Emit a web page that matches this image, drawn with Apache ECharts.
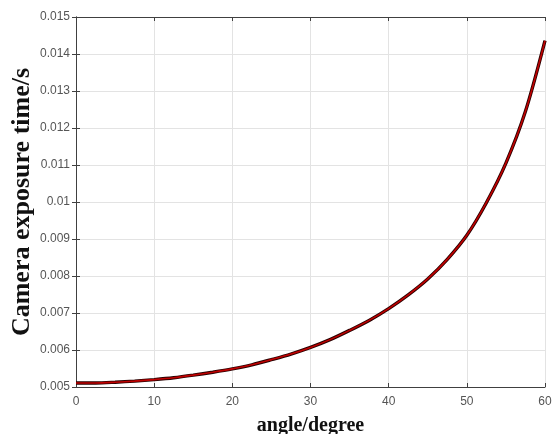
<!DOCTYPE html>
<html>
<head>
<meta charset="utf-8">
<script src="https://cdn.jsdelivr.net/npm/echarts@6/dist/echarts.min.js"></script>
<style>
  html, body { margin: 0; padding: 0; background: #fff; }
  #chart { width: 553px; height: 434px; }
</style>
</head>
<body>
<div id="chart"></div>
<script>
// angle in degrees and exposure time in seconds
const angles = [0, 2.5, 5, 7.5, 10, 12.5, 15, 17.5, 20, 22.5, 25, 27.5, 30,
  32.5, 35, 37.5, 40, 42.5, 45, 47.5, 50, 52.5, 55, 57.5, 60];
const exposure = [0.00511, 0.00511, 0.00513, 0.00516, 0.00520, 0.00525, 0.00532,
  0.00540, 0.00549, 0.00560, 0.00574, 0.00589, 0.00607, 0.00628, 0.00653,
  0.00680, 0.00712, 0.00749, 0.00792, 0.00845, 0.00910, 0.00998, 0.01105,
  0.01245, 0.01436];

const points = angles.map((a, i) => [a, exposure[i]]);

const chart = echarts.init(document.getElementById("chart"));

const axisColor = "#404040";
const labelColor = "#555";
const gridColor = "#e3e3e3";

chart.setOption({
  backgroundColor: "#fff",
  animation: false,
  grid: { left: 76, top: 17, right: 8, bottom: 47, containLabel: false, outerBoundsMode: "none" },
  xAxis: [
    {
      type: "value",
      min: 0,
      max: 60,
      interval: 10,
      name: "angle/degree",
      nameLocation: "middle",
      nameGap: 29,
      nameMoveOverlap: false,
      nameTextStyle: {
        fontFamily: "Liberation Serif",
        fontWeight: "bold",
        fontSize: 20,
        color: "#111",
      },
      axisLine: { lineStyle: { color: axisColor, width: 1 } },
      axisTick: { inside: true, length: 4, lineStyle: { color: axisColor } },
      axisLabel: { color: labelColor, fontFamily: "Liberation Sans", fontSize: 12, margin: 9 },
      splitLine: { show: true, lineStyle: { color: gridColor } },
    },
    {
      type: "value",
      position: "top",
      min: 0,
      max: 60,
      interval: 10,
      axisLine: { show: true, lineStyle: { color: axisColor, width: 1 } },
      axisTick: { show: true, inside: true, length: 4, lineStyle: { color: axisColor } },
      axisLabel: { show: false },
      splitLine: { show: false },
    },
  ],
  yAxis: [
    {
      type: "value",
      min: 0.005,
      max: 0.015,
      interval: 0.001,
      name: "Camera exposure time/s",
      nameLocation: "middle",
      nameGap: 41,
      nameMoveOverlap: false,
      nameTextStyle: {
        fontFamily: "Liberation Serif",
        fontWeight: "bold",
        fontSize: 26,
        color: "#111",
      },
      axisLine: { show: true, lineStyle: { color: axisColor, width: 1 } },
      axisTick: { show: true, inside: true, length: 4, lineStyle: { color: axisColor } },
      axisLabel: {
        color: labelColor,
        fontFamily: "Liberation Sans",
        fontSize: 12,
        margin: 6,
        formatter: (v) => String(+v.toFixed(3)),
      },
      splitLine: { show: true, lineStyle: { color: gridColor } },
    },
    {
      type: "value",
      position: "right",
      min: 0.005,
      max: 0.015,
      interval: 0.001,
      axisLine: { show: true, lineStyle: { color: axisColor, width: 1 } },
      axisTick: { show: true, inside: true, length: 4, lineStyle: { color: axisColor } },
      axisLabel: { show: false },
      splitLine: { show: false },
    },
  ],
  series: [
    {
      // dark outline under the red curve
      type: "line",
      data: points,
      smooth: 0.3,
      showSymbol: false,
      lineStyle: { color: "#2a0000", width: 3.4 },
    },
    {
      type: "line",
      data: points,
      smooth: 0.3,
      showSymbol: false,
      lineStyle: { color: "#c00000", width: 1.6 },
    },
  ],
});
</script>
</body>
</html>
